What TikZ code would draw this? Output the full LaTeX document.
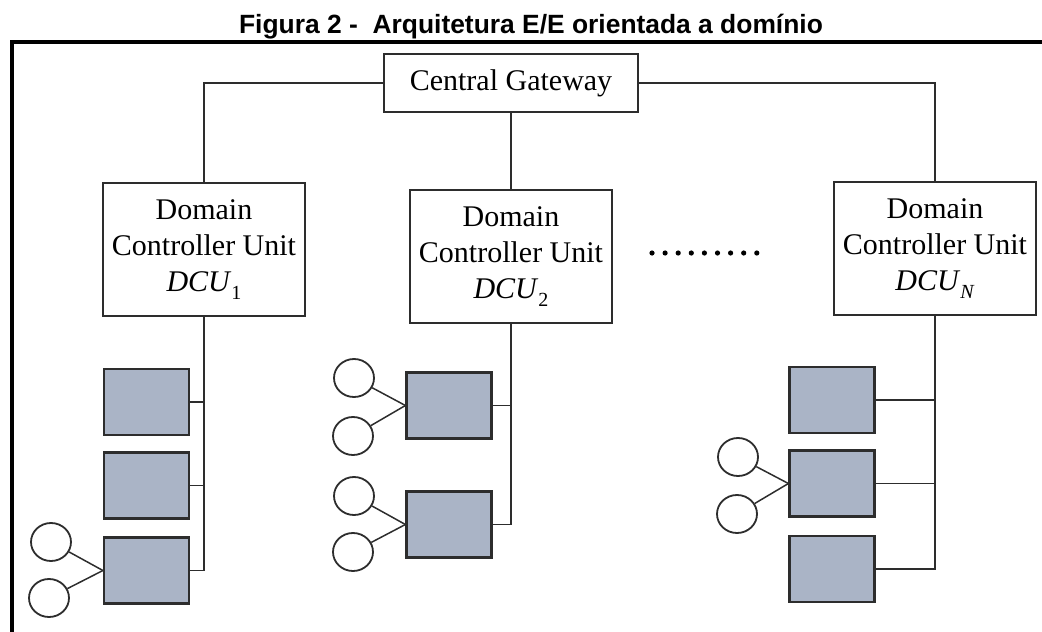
\documentclass[tikz,border=0pt]{standalone}
\usepackage{fontspec}
\setmainfont{Liberation Serif}
\newfontfamily\titlefont{Liberation Sans}
\usetikzlibrary{shapes.geometric}
\definecolor{ecufill}{RGB}{170,180,198}
\definecolor{linegray}{RGB}{45,45,45}
\newcommand\dcuname[1]{\textit{DCU}\raisebox{-0.28em}{\fontsize{20}{20}\selectfont #1}}
\begin{document}
\begin{tikzpicture}[x=1pt,y=-1pt,
  unitbox/.style={draw=linegray, line width=1.8pt, fill=white, inner sep=0pt,
    minimum width=202pt, minimum height=133pt, align=center,
    font=\fontsize{30}{36}\selectfont},
  gatebox/.style={draw=linegray, line width=1.8pt, fill=white, inner sep=0pt,
    minimum width=254pt, minimum height=58pt, font=\fontsize{30}{36}\selectfont},
  ecu/.style={draw=linegray, line width=2.2pt, fill=ecufill, inner sep=0pt,
    minimum width=85pt, minimum height=66pt},
  sensor/.style={ellipse, draw=linegray, line width=1.8pt, fill=white, inner sep=0pt,
    minimum width=40pt, minimum height=38pt},
  wire/.style={draw=linegray, line width=1.5pt}]
\useasboundingbox (0,0) rectangle (1042,632);

% title and frame
\node[anchor=base, font=\titlefont\bfseries\fontsize{26.4}{30}\selectfont] (title) at (531,33)
  {Figura 2 - \ Arquitetura E/E orientada a domínio};
\draw[line width=3.5pt, black] (12,640) -- (12,42) -- (1050,42);

% gateway and domain controllers
\node[gatebox] (cg) at (511,83) {Central Gateway};
\node[unitbox] (dcu1) at (204,249.5) {Domain\\Controller Unit\\\dcuname{1}};
\node[unitbox] (dcu2) at (511,256.5) {Domain\\Controller Unit\\\dcuname{2}};
\node[unitbox] (dcun) at (935,248.5) {Domain\\Controller Unit\\\dcuname{\textit{N}}};

\draw[wire] (cg.west) -| (dcu1.north);
\draw[wire] (cg.east) -| (dcun.north);
\draw[wire] (cg.south) -- (dcu2.north);

% ellipsis between the domains
\foreach \i in {0,...,8}
  \fill[black] (652+13.1*\i,253) circle (2.6pt);

% domain 1
\node[ecu] (e11) at (146.5,402) {};
\node[ecu] (e12) at (146.5,485.5) {};
\node[ecu] (e13) at (146.5,570.5) {};
\draw[wire] (dcu1.south) |- (e13.east);
\draw[wire] (e11.east) -- (e11.east -| dcu1.south);
\draw[wire] (e12.east) -- (e12.east -| dcu1.south);
\node[sensor] (s11) at (51,542) {};
\node[sensor] (s12) at (49,598) {};
\draw[wire] (s11) -- (e13.west);
\draw[wire] (s12) -- (e13.west);

% domain 2
\node[ecu] (e21) at (449,405.5) {};
\node[ecu] (e22) at (449,524.5) {};
\draw[wire] (dcu2.south) |- (e22.east);
\draw[wire] (e21.east) -- (e21.east -| dcu2.south);
\node[sensor] (s21) at (354,378) {};
\node[sensor] (s22) at (353,436) {};
\node[sensor] (s23) at (354,496) {};
\node[sensor] (s24) at (353,552) {};
\draw[wire] (s21) -- (e21.west);
\draw[wire] (s22) -- (e21.west);
\draw[wire] (s23) -- (e22.west);
\draw[wire] (s24) -- (e22.west);

% domain N
\node[ecu] (en1) at (832,400) {};
\node[ecu] (en2) at (832,483.5) {};
\node[ecu] (en3) at (832,569) {};
\draw[wire] (dcun.south) |- (en3.east);
\draw[wire] (en1.east) -- (en1.east -| dcun.south);
\draw[wire] (en2.east) -- (en2.east -| dcun.south);
\node[sensor] (sn1) at (738,457) {};
\node[sensor] (sn2) at (737,514) {};
\draw[wire] (sn1) -- (en2.west);
\draw[wire] (sn2) -- (en2.west);
\end{tikzpicture}
\end{document}
